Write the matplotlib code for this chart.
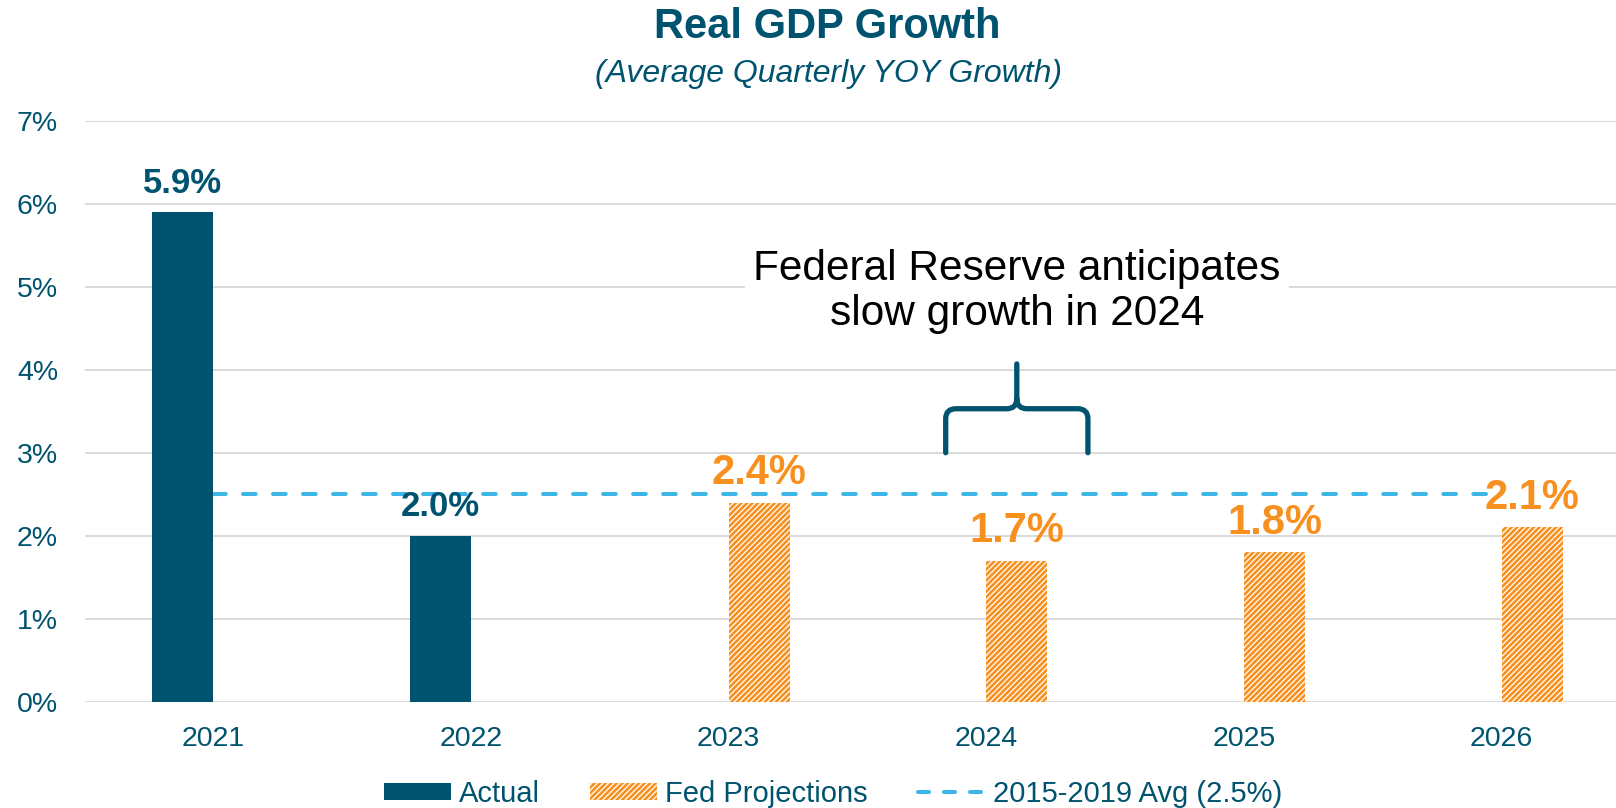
import matplotlib
matplotlib.use("Agg")
import matplotlib.pyplot as plt
import numpy as np
from matplotlib.path import Path
from matplotlib.patches import PathPatch, Patch
from matplotlib.lines import Line2D

plt.rcParams['font.family'] = ['Liberation Sans', 'DejaVu Sans']
plt.rcParams['hatch.linewidth'] = 1.9

# ---- data ----
years = ["2021", "2022", "2023", "2024", "2025", "2026"]
actual = [5.9, 2.0, np.nan, np.nan, np.nan, np.nan]
projections = [np.nan, np.nan, 2.4, 1.7, 1.8, 2.1]
avg_value = 2.5
avg_label = "2015-2019 Avg (2.5%)"
yticks = [0, 1, 2, 3, 4, 5, 6, 7]
brace_year = "2024"

TEAL = "#00536F"
ORANGE = "#F7901E"
BLUE = "#3DB5E6"
GRID = "#D9D9D9"
HATCH = "//////"

fig = plt.figure(figsize=(16.16, 8.08), dpi=100)
ax = fig.add_axes([84.5 / 1616, 0.1314, 6 * 257.65 / 1616, 0.7193])

x = np.arange(len(years))
w = 0.237

ax.bar(x - w / 2, actual, width=w, color=TEAL, zorder=3)
ax.bar(x + w / 2, projections, width=w, facecolor="white", edgecolor=ORANGE,
       hatch=HATCH, linewidth=0, zorder=3)

ax.plot(x, [avg_value] * len(x), color=BLUE, lw=2.9, dashes=(3.15, 4.3),
        dash_capstyle='round', zorder=2)

for xi, v in zip(x, actual):
    if not np.isnan(v):
        ax.annotate(f"{v:.1f}%", (xi - w / 2, v), xytext=(0, 14),
                    textcoords="offset points", ha="center", va="baseline",
                    fontsize=25, fontweight="bold", color=TEAL, zorder=5)
for xi, v in zip(x, projections):
    if not np.isnan(v):
        ax.annotate(f"{v:.1f}%", (xi + w / 2, v), xytext=(0, 13.3),
                    textcoords="offset points", ha="center", va="baseline",
                    fontsize=30, fontweight="bold", color=ORANGE, zorder=5)

ax.set_xlim(-0.5, 5.5)
ax.set_ylim(0, 7)
ax.set_yticks(yticks)
ax.set_yticklabels([f"{t}%" for t in yticks])
ax.set_xticks(x)
ax.set_xticklabels(years)
ax.tick_params(axis="y", length=0, pad=19, labelsize=20.5, labelcolor=TEAL)
ax.tick_params(axis="x", length=0, pad=17.5, labelsize=20.5, labelcolor=TEAL)
for s in ax.spines.values():
    s.set_visible(False)
ax.grid(axis="y", color=GRID, lw=1.4, zorder=0)
ax.set_axisbelow(True)

# ---- brace over 2024 projection ----
bi = years.index(brace_year)
C = bi + w / 2
hw = 0.276
L, R = C - hw, C + hw
yb, ym, yt = 3.0, 3.53, 4.07
rx, ry = 0.04, 0.12
verts = [(L, yb), (L, ym - ry), (L, ym), (L + rx, ym), (C - rx, ym), (C, ym), (C, ym + ry), (C, yt),
         (C, ym + ry), (C, ym), (C + rx, ym), (R - rx, ym), (R, ym), (R, ym - ry), (R, yb)]
codes = [Path.MOVETO, Path.LINETO, Path.CURVE3, Path.CURVE3, Path.LINETO, Path.CURVE3, Path.CURVE3, Path.LINETO,
         Path.MOVETO, Path.CURVE3, Path.CURVE3, Path.LINETO, Path.CURVE3, Path.CURVE3, Path.LINETO]
ax.add_patch(PathPatch(Path(verts, codes), facecolor="none", edgecolor=TEAL, lw=3.8,
                       capstyle="round", joinstyle="round", zorder=4))

ax.text(C, 4.94, "Federal Reserve anticipates\nslow growth in 2024", ha="center", va="center",
        fontsize=30.5, color="black", linespacing=1.155, zorder=4,
        bbox=dict(facecolor="white", edgecolor="none", pad=6))

# ---- titles ----
fig.text(827 / 1616, 1 - 27 / 808, "Real GDP Growth", ha="center", va="center",
         fontsize=30, fontweight="bold", color=TEAL)
fig.text(829 / 1616, 1 - 74 / 808, "(Average Quarterly YOY Growth)", ha="center", va="center",
         fontsize=23, fontstyle="italic", color=TEAL)

# ---- legend ----
handles = [Patch(facecolor=TEAL, edgecolor="none"),
           Patch(facecolor="white", edgecolor=ORANGE, hatch=HATCH, linewidth=0),
           Line2D([0], [0], color=BLUE, lw=2.9, dashes=(2.73, 3.72), dash_capstyle='round')]
leg = fig.legend(handles, ["Actual", "Fed Projections", avg_label], loc="center",
                 bbox_to_anchor=(833 / 1616, 1 - 794 / 808), ncol=3, frameon=False,
                 fontsize=21, handlelength=2.3, handleheight=0.55, handletextpad=0.26,
                 columnspacing=1.73, borderpad=0, labelcolor=TEAL)

fig.savefig("out.png", dpi=100)
